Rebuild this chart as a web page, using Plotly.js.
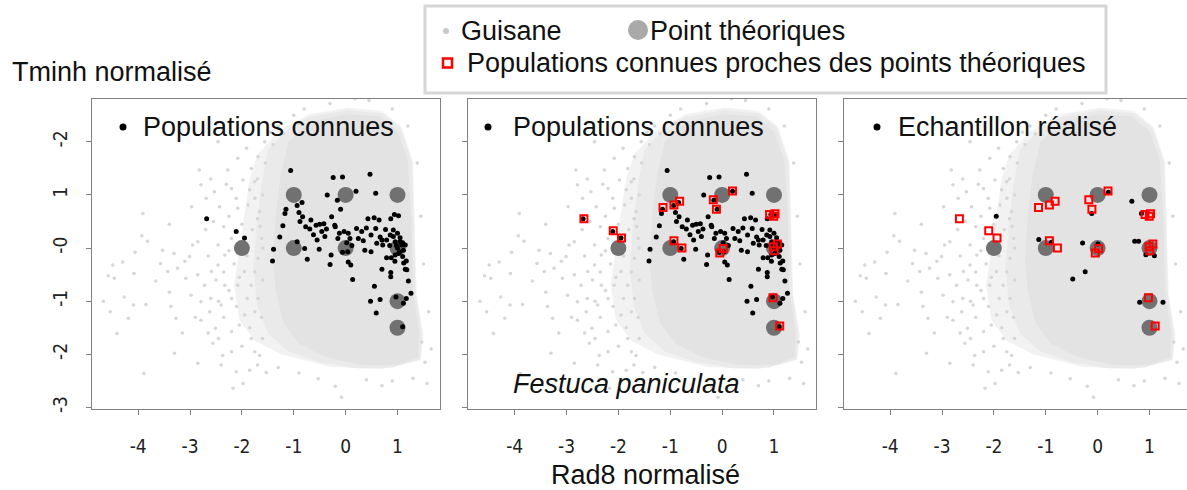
<!DOCTYPE html>
<html><head><meta charset="utf-8">
<script src="https://cdn.plot.ly/plotly-3.0.1.min.js"></script>
<style>html,body{margin:0;padding:0;overflow:hidden;background:#fff}#chart{width:1200px;height:490px}</style>
</head><body><div id="chart"></div>
<script>
// ---------- data ----------
const xTickVals = [-4, -3, -2, -1, 0, 1];
const xTickText = ['-4', '-3', '-2', '-1', '0', '1'];
const yTickVals = [2, 1, 0, -1, -2, -3];
const yTickText = ['-2', '1', '-0', '-1', '-2', '-3'];

const panelLabels = ['Populations connues', 'Populations connues', 'Echantillon réalisé'];

// theoretical points
const theoX = [-2, -1, -1, 0, 0, 1, 1, 1, 1];
const theoY = [0, 1, 0, 1, 0, 1, 0, -1, -1.5];

// known populations (panels 1 & 2)
const knownX = [-2.68,-2.11,-1.95,-1.41,-1.39,-1.27,-1.06,-1.15,-1.17,-1.21,-0.935,-0.84,-0.90,-0.83,-0.88,-0.77,-0.69,-0.57,-0.50,-0.42,-0.37,-0.46,-0.55,-0.51,-0.74,-0.79,-0.935,-0.67,
 -0.24,-0.06,-0.355,-0.16,-0.097,-0.27,-0.21,-0.12,-0.03,0.05,0.084,0.02,-0.06,0.04,0.05,0.10,-0.30,-0.28,0.135,
 0.20,0.21,0.31,0.245,0.34,0.37,0.49,0.47,0.58,0.43,0.55,0.645,0.58,0.49,0.665,0.60,0.715,0.79,0.86,0.77,0.87,0.94,1.02,0.92,1.0,1.05,0.955,1.08,1.15,1.115,1.04,0.955,0.88,0.79,1.10,1.17,0.70,0.87,0.87,1.15,1.18,1.21,0.555,0.48,0.665,0.59,0.97,1.17,1.26,1.115,1.10,
 1.0,1.05,0.92,1.1,0.98,0.85,0.7,1.12,0.95,1.02,0.4,0.12,-0.15,-0.4,-0.62,-0.2];
const knownY = [0.55,0.31,0.19,-0.245,-0.02,0.21,1.46,0.73,0.65,0.42,0.80,0.86,0.67,0.59,0.50,0.40,0.36,0.43,0.45,0.46,0.36,0.31,0.15,-0.02,-0.21,-0.01,0.12,0.53,
 1.33,1.34,1.0,0.90,0.73,0.59,0.43,0.28,0.31,0.28,0.18,0.10,-0.08,-0.07,-0.26,-0.32,-0.31,-0.13,-0.59,
 1.07,0.37,0.31,0.18,0.14,-0.04,-0.07,1.39,1.03,0.55,0.57,0.53,0.37,0.245,0.21,0.09,0.056,0.15,0.245,0.35,0.55,0.63,0.61,0.34,0.28,0.195,0.12,0.056,0.056,-0.04,-0.07,-0.13,-0.18,-0.18,-0.16,-0.245,-0.40,-0.46,-0.54,-0.40,-0.41,-0.62,-0.72,-1.0,-0.97,-1.22,-0.92,-0.95,-0.85,-1.04,-1.48,
 0.0,0.12,0.22,0.1,0.05,0.05,0.15,-0.28,-0.25,-0.1,0.38,0.05,0.18,0.22,0.25,0.4];

// known populations close to theoretical points (panels 2 & 3)
const procheX = [-2.665,-2.10,-1.94,-1.14,-0.93,-0.82,-0.93,-0.775,-0.17,-0.11,0.20,0.02,-0.045,0.915,1.02,0.995,1.065,0.99,1.005,0.98,1.11];
const procheY = [0.55,0.325,0.19,0.765,0.81,0.88,0.14,0.003,0.91,0.73,1.075,-0.01,-0.095,0.63,0.645,0.60,0.078,0.025,-0.05,-0.935,-1.465];

// realised sample (panel 3)
const echX = [-1.955,-1.135,-0.89,-0.29,0.006,-0.24,-0.48,0.207,-0.113,0.66,0.845,0.715,0.79,0.93,1.095,0.81,1.26];
const echY = [0.60,0.163,0.11,0.097,0.078,-0.445,-0.58,1.05,0.65,0.883,0.65,0.128,0.128,-0.126,-0.144,-1.02,-1.02];

const outerX = [-1.7,-1.3,-0.7,0.05,0.7,1.08,1.3,1.33,1.37,1.5,1.45,0.7,-0.27,-1.24,-1.75,-2.05,-2.15,-2.05,-1.95,-1.85];
const outerY = [1.75,2.2,2.52,2.64,2.58,2.28,1.62,0.36,-0.89,-1.64,-2.1,-2.28,-2.24,-2.0,-1.75,-1.35,-0.7,0.0,0.7,1.3];
const innerX = [-1.5,-1.1,-0.7,0.05,0.7,1.05,1.28,1.31,1.35,1.47,1.43,0.9,0.2,-0.5,-1.1,-1.5,-1.7,-1.78,-1.72,-1.62];
const innerY = [1.85,2.25,2.47,2.6,2.54,2.27,1.62,0.4,-0.85,-1.62,-2.1,-2.25,-2.26,-2.15,-1.95,-1.6,-1.1,-0.4,0.4,1.2];
const coreX = [-1.1,-0.7,0.0,0.65,1.0,1.2,1.27,1.3,1.42,1.4,1.0,0.3,-0.4,-0.9,-1.2,-1.35,-1.4,-1.35,-1.25];
const coreY = [2.0,2.38,2.52,2.48,2.2,1.65,0.5,-0.8,-1.6,-2.05,-2.2,-2.2,-2.05,-1.8,-1.4,-0.8,-0.2,0.6,1.4];
const sparseX = [-3.91,-3.40,-3.93,-3.82,-4.06,-4.30,-4.49,-4.58,-4.46,-4.08,-4.27,-4.67,-4.54,-3.85,-4.09,-4.19,-4.41,-3.53,-3.24,-3.31,-3.43,-3.66,-3.37,-3.27,-3.30,-2.85,-3.89,-3.40,-3.57,-3.08,-2.98,-3.01,-2.85,-2.95,-2.97,-2.82,-2.27,-2.46,-2.08,-2.79,-2.69,-2.53,-2.43,-2.20,-2.11,-1.98,-1.82,-1.75,-1.91,-1.69,-2.08,-1.88,-1.75,-1.66,-2.33,-2.46,-2.59,-2.72,-2.79,-2.62,-2.79,-2.51,-2.56,-2.37,-2.11,-2.17,-1.98,-2.20,-2.08,-1.95,-2.33,-2.40,-2.20,-1.95,-1.82,-1.69,-1.69,-1.82,-1.66,-1.62,-2.20,-2.46,-1.56,
 0.18,-1.53,-0.53,-0.08,0.70,1.57,1.53,1.47,-1.3,-1.0,-0.8,0.9,-1.45,0.45,-0.3,1.2,1.38,1.45,1.5,1.6,1.65,1.3,0.9,0.4,-0.2,-0.9,-1.3,-1.7,
 -2.7,-2.55,-2.35,-2.25,-2.0,-1.8,-1.7,-1.85,-2.3,-2.6,-2.65,-2.5,-2.35,-2.15,-2.05,-1.9,-1.75,-2.25,-2.1,-1.9,-1.75,-2.35,-2.05,-1.85,-2.45,-2.0,-1.75,-2.6,-2.85,-2.9,-2.4,-1.85,-1.6,-1.62,-1.6,-1.6,-1.65,-1.6,-1.7,-1.55,-1.4,-1.2,-0.9,-2.0,-2.25,-2.45,-2.2,-2.65,-3.1,-3.15];
const sparseY = [0.65,0.45,0.23,0.13,-0.08,-0.26,-0.32,-0.52,-0.57,-0.48,-0.92,-1.0,-1.2,-1.06,-1.07,-1.32,-1.61,-0.04,-0.38,-0.10,-0.44,-0.62,-1.10,-1.32,-1.98,-2.17,-2.36,-0.83,-0.29,-0.57,-0.89,-0.16,0.12,0.06,0.78,1.47,1.47,2.0,1.69,1.19,0.94,1.06,0.78,1.12,0.94,1.28,1.50,1.25,1.88,1.72,0.75,0.81,0.94,0.69,-0.13,-0.32,-0.44,-0.70,-1.01,-1.20,-1.36,-1.51,-1.79,-2.02,-2.33,-2.64,-2.55,-0.95,-0.70,-0.44,-0.70,-1.07,-1.57,-1.26,-1.70,-0.95,-0.19,-0.70,-2.02,0.18,0.18,0.06,2.0,
 2.81,-2.34,-2.46,-2.81,-2.59,-2.55,-2.15,-1.77,2.3,2.5,2.62,2.62,2.18,2.78,2.72,2.3,1.6,0.6,-0.3,-1.2,-1.9,-2.45,-2.5,-2.48,-2.6,-2.35,-2.25,-2.2,
 0.35,0.5,0.4,0.6,0.45,0.35,0.55,1.1,1.2,1.3,-0.15,-0.6,-0.45,-0.3,-0.55,-0.15,-0.45,-0.8,-1.1,-0.95,-1.2,-1.3,-1.45,-1.5,-1.7,-1.85,-1.95,-0.95,-0.5,-1.3,-2.2,-2.3,-1.7,-1.3,-0.6,0.0,0.4,1.0,1.3,1.6,1.95,2.15,2.35,0.1,-0.05,-1.0,-1.95,-1.6,-0.25,-1.6];

// ---------- layout helpers ----------
const W = 1200, H = 490;
const px = v => v / W, py = v => 1 - v / H;
const xRange = [-4.9, 1.81], yRange = [-3.02, 2.81];
const xDomains = [[91.5, 439.5], [468, 816], [843.5, 1191.5]];
const yDomain = [py(408.5), py(98.8)];
const tickFont = {family: 'Liberation Sans Narrow, DejaVu Sans Condensed, Arial Narrow, sans-serif', size: 19, color: '#222'};
const bigFont = {family: 'Liberation Sans, Arial, sans-serif', size: 27, color: '#111'};

const data = [];
const layout = {
  width: W, height: H, margin: {l: 0, r: 0, t: 0, b: 0},
  paper_bgcolor: '#fff', plot_bgcolor: '#fff', showlegend: false,
  annotations: [], shapes: []
};

for (let i = 0; i < 3; i++) {
  const s = i === 0 ? '' : String(i + 1);
  const xa = 'x' + s, ya = 'y' + s;
  layout['xaxis' + s] = {
    range: xRange, domain: [px(xDomains[i][0]), px(xDomains[i][1])], anchor: ya,
    tickvals: xTickVals, ticktext: xTickText, ticks: 'outside', ticklen: 5, tickcolor: '#808080',
    showline: true, mirror: true, linecolor: '#808080', linewidth: 1, showgrid: false, zeroline: false,
    tickfont: tickFont, ticklabelstandoff: 16
  };
  layout['yaxis' + s] = {
    range: yRange, domain: yDomain, anchor: xa,
    tickvals: yTickVals, ticktext: yTickText, ticks: 'outside', ticklen: 5, tickcolor: '#808080',
    showline: true, mirror: true, linecolor: '#808080', linewidth: 1, showgrid: false, zeroline: false,
    tickfont: tickFont, tickangle: -90, showticklabels: i === 0, ticklabelstandoff: 11
  };

  const base = {xaxis: xa, yaxis: ya, hoverinfo: 'skip'};
  data.push(Object.assign({x: outerX, y: outerY, type: 'scatter', mode: 'lines', fill: 'toself', fillcolor: '#f2f2f2', line: {width: 0}}, base));
  data.push(Object.assign({x: innerX, y: innerY, type: 'scatter', mode: 'lines', fill: 'toself', fillcolor: '#eaeaea', line: {width: 0}}, base));
  data.push(Object.assign({x: coreX, y: coreY, type: 'scatter', mode: 'lines', fill: 'toself', fillcolor: '#e3e3e3', line: {width: 0}}, base));
  data.push(Object.assign({x: sparseX, y: sparseY, type: 'scatter', mode: 'markers', marker: {size: 3.5, color: '#d6d6d6'}}, base));
  data.push(Object.assign({x: theoX, y: theoY, type: 'scatter', mode: 'markers', marker: {size: 16, color: '#717171'}}, base));
  const bx = i === 2 ? echX : knownX, by = i === 2 ? echY : knownY;
  data.push(Object.assign({x: bx, y: by, type: 'scatter', mode: 'markers', marker: {size: 5, color: '#000'}}, base));
  if (i > 0) {
    data.push(Object.assign({x: procheX, y: procheY, type: 'scatter', mode: 'markers', marker: {size: 7, symbol: 'square-open', color: '#ff0000', line: {width: 2, color: '#ff0000'}}}, base));
  }
}

// panel labels with bullets
const bulletX = [123, 488, 877], labelX = [140.5, 510.5, 895.5];
for (let i = 0; i < 3; i++) {
  layout.shapes.push({type: 'circle', xref: 'paper', yref: 'paper', x0: px(bulletX[i] - 3.5), x1: px(bulletX[i] + 3.5), y0: py(127 + 3.5), y1: py(127 - 3.5), fillcolor: '#000', line: {width: 0}});
  layout.annotations.push({xref: 'paper', yref: 'paper', x: px(labelX[i]), y: py(127), xanchor: 'left', yanchor: 'middle', text: panelLabels[i], showarrow: false, font: bigFont});
}
layout.annotations.push({xref: 'paper', yref: 'paper', x: px(511), y: py(384), xanchor: 'left', yanchor: 'middle', text: '<i>Festuca paniculata</i>', showarrow: false, font: bigFont});

// axis titles
layout.annotations.push({xref: 'paper', yref: 'paper', x: px(10), y: py(72), xanchor: 'left', yanchor: 'middle', text: 'Tminh normalisé', showarrow: false, font: bigFont});
layout.annotations.push({xref: 'paper', yref: 'paper', x: px(645), y: py(475), xanchor: 'center', yanchor: 'middle', text: 'Rad8 normalisé', showarrow: false, font: bigFont});

// legend box
layout.shapes.push({type: 'rect', xref: 'paper', yref: 'paper', x0: px(425), x1: px(1106), y0: py(93), y1: py(6), line: {color: '#d6d6d6', width: 3}, fillcolor: 'rgba(0,0,0,0)'});
layout.shapes.push({type: 'circle', xref: 'paper', yref: 'paper', x0: px(443), x1: px(449), y0: py(34), y1: py(28), fillcolor: '#c8c8c8', line: {width: 0}});
layout.shapes.push({type: 'circle', xref: 'paper', yref: 'paper', x0: px(628), x1: px(648), y0: py(40), y1: py(20), fillcolor: '#a9a9a9', line: {width: 0}});
layout.shapes.push({type: 'rect', xref: 'paper', yref: 'paper', x0: px(443), x1: px(452), y0: py(67.5), y1: py(58.5), fillcolor: '#fff', line: {color: '#ff0000', width: 2.5}});
layout.annotations.push({xref: 'paper', yref: 'paper', x: px(459), y: py(31), xanchor: 'left', yanchor: 'middle', text: 'Guisane', showarrow: false, font: bigFont});
layout.annotations.push({xref: 'paper', yref: 'paper', x: px(648), y: py(31), xanchor: 'left', yanchor: 'middle', text: 'Point théoriques', showarrow: false, font: bigFont});
layout.annotations.push({xref: 'paper', yref: 'paper', x: px(465), y: py(63), xanchor: 'left', yanchor: 'middle', text: 'Populations connues proches des points théoriques', showarrow: false, font: bigFont});

Plotly.newPlot('chart', data, layout, {staticPlot: true, displayModeBar: false});
</script>
</body></html>
